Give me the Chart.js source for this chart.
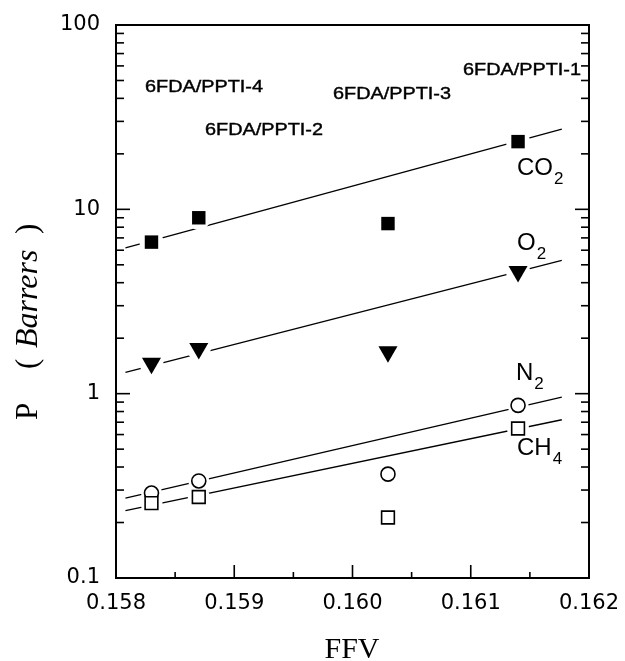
<!DOCTYPE html>
<html><head><meta charset="utf-8">
<script src="https://cdn.jsdelivr.net/npm/chart.js@4.4.0/dist/chart.umd.min.js"></script>
<style>html,body{margin:0;padding:0;background:#fff;}</style>
</head><body>
<canvas id="c" width="625" height="661"></canvas>
<script>
// ---- data ----
const ffv = [0.1583, 0.1587, 0.1603, 0.1614];
const co2 = [6.64, 9.0, 8.37, 23.3];
const o2  = [1.46, 1.76, 1.69, 4.6];
const n2  = [0.289, 0.336, 0.366, 0.864];
const ch4 = [0.255, 0.275, 0.213, 0.647];
const fitFFV = [0.15808, 0.16177];
const co2Fit = [6.18, 27.2];
const o2Fit  = [1.306, 5.28];
const n2Fit  = [0.271, 0.958];
const ch4Fit = [0.232, 0.722];
const xTicks = [0.158, 0.159, 0.160, 0.161, 0.162];
const yTicks = [0.1, 1, 10, 100];
const polymers = ['6FDA/PPTI-4', '6FDA/PPTI-2', '6FDA/PPTI-3', '6FDA/PPTI-1'];
const gases = [['CO', '2'], ['O', '2'], ['N', '2'], ['CH', '4']];

const pts = (xs, ys) => xs.map((v, i) => ({x: v, y: ys[i]}));

function fitSet(ys) {
  return {type: 'scatter', data: pts(fitFFV, ys), showLine: true, borderColor: '#000',
    borderWidth: 1.3, pointRadius: 0, order: 3};
}
function haloSet(ys, r) {
  return {type: 'scatter', data: pts(ffv, ys), pointStyle: 'circle', pointRadius: r,
    pointBackgroundColor: '#fff', pointBorderWidth: 0, borderColor: '#fff', order: 2};
}

const framePlugin = {
  id: 'frame',
  afterDraw(chart) {
    const {ctx, chartArea: a, scales: {x, y}} = chart;
    ctx.save();
    ctx.strokeStyle = '#000';
    ctx.lineWidth = 2;
    ctx.strokeRect(a.left, a.top, a.right - a.left, a.bottom - a.top);
    const seg = (x1, y1, x2, y2) => { ctx.beginPath(); ctx.moveTo(x1, y1); ctx.lineTo(x2, y2); ctx.stroke(); };
    ctx.lineWidth = 1.6;
    xTicks.forEach((v, i) => {
      const px = x.getPixelForValue(v);
      seg(px, a.bottom, px, a.bottom - 13);
      if (i < xTicks.length - 1) {
        const pm = x.getPixelForValue((v + xTicks[i + 1]) / 2);
        seg(pm, a.bottom, pm, a.bottom - 6);
      }
    });
    yTicks.forEach((v, i) => {
      const py = y.getPixelForValue(v);
      seg(a.left, py, a.left + 14, py);
      seg(a.right, py, a.right - 14, py);
      if (i < yTicks.length - 1) {
        for (let m = 2; m <= 9; m++) {
          const pm = y.getPixelForValue(v * m);
          seg(a.left, pm, a.left + 8, pm);
          seg(a.right, pm, a.right - 8, pm);
        }
      }
    });
    // polymer annotations (left x, centre y)
    const annPos = [[145, 88], [205, 131], [333, 95], [463, 71]];
    ctx.fillStyle = '#000';
    ctx.strokeStyle = '#000';
    ctx.lineWidth = 0.4;
    ctx.textBaseline = 'middle';
    ctx.textAlign = 'left';
    polymers.forEach((t, i) => {
      ctx.save();
      ctx.translate(annPos[i][0], annPos[i][1]);
      ctx.scale(1.24, 1);
      ctx.font = '16px "Liberation Sans", Arial, sans-serif';
      ctx.fillText(t, 0, 0);
      ctx.strokeText(t, 0, 0);
      ctx.restore();
    });
    // gas labels (left x, baseline y)
    const gasPos = [[517, 175], [517, 250], [516, 380], [517, 455]];
    ctx.textBaseline = 'alphabetic';
    gases.forEach((g, i) => {
      ctx.font = '24px "Liberation Sans", Arial, sans-serif';
      ctx.fillText(g[0], gasPos[i][0], gasPos[i][1]);
      const w = ctx.measureText(g[0]).width;
      ctx.font = '17px "Liberation Sans", Arial, sans-serif';
      ctx.fillText(g[1], gasPos[i][0] + w + 1, gasPos[i][1] + 9);
    });
    // x title
    ctx.textAlign = 'center';
    ctx.font = '30px "Liberation Serif", "Times New Roman", serif';
    ctx.fillText('FFV', 352, 658);
    // y title (rotated)
    ctx.save();
    ctx.translate(37, 420);
    ctx.rotate(-Math.PI / 2);
    ctx.textAlign = 'left';
    ctx.font = '31px "Liberation Serif", "Times New Roman", serif';
    ctx.fillText('P', 0, 0);
    ctx.fillText('(', 51, 0);
    ctx.font = 'italic 32px "Liberation Serif", "Times New Roman", serif';
    ctx.fillText('Barrers', 72, 0);
    ctx.font = '31px "Liberation Serif", "Times New Roman", serif';
    ctx.fillText(')', 186, 0);
    ctx.restore();
    ctx.restore();
  }
};

new Chart(document.getElementById('c'), {
  type: 'scatter',
  data: {
    datasets: [
      // markers (drawn on top)
      {label: 'CO2', data: pts(ffv, co2), pointStyle: 'rect', pointRadius: 9.5,
        pointBackgroundColor: '#000', pointBorderColor: '#000', pointBorderWidth: 0, order: 1},
      {label: 'O2', data: pts(ffv, o2), pointStyle: 'triangle', rotation: 180, pointRotation: 180, pointRadius: 11,
        pointBackgroundColor: '#000', pointBorderColor: '#000', pointBorderWidth: 0, order: 1},
      {label: 'CH4', data: pts(ffv, ch4), pointStyle: 'rect', pointRadius: 9,
        pointBackgroundColor: '#fff', pointBorderColor: '#000', pointBorderWidth: 1.6, order: 1},
      {label: 'N2', data: pts(ffv, n2), pointStyle: 'circle', pointRadius: 7,
        pointBackgroundColor: '#fff', pointBorderColor: '#000', pointBorderWidth: 1.6, order: 1},
      // white halos that interrupt the fit lines around markers
      haloSet(co2, 12), haloSet(o2, 12), haloSet(ch4, 11), haloSet(n2, 10.5),
      // fit lines
      fitSet(co2Fit), fitSet(o2Fit), fitSet(n2Fit), fitSet(ch4Fit)
    ]
  },
  options: {
    responsive: false,
    animation: false,
    devicePixelRatio: 1,
    layout: {autoPadding: false, padding: {top: 25, right: 36, left: 0, bottom: 0}},
    plugins: {legend: {display: false}, tooltip: {enabled: false}},
    scales: {
      x: {
        type: 'linear', min: 0.158, max: 0.162,
        grid: {display: false, drawTicks: false},
        border: {display: false},
        afterBuildTicks: s => { s.ticks = xTicks.map(v => ({value: v})); },
        afterFit: s => { s.height = 83; s.paddingLeft = 0; s.paddingRight = 0; },
        ticks: {padding: 13, color: '#000', font: {family: '"DejaVu Sans", sans-serif', size: 21},
          maxRotation: 0, autoSkip: false, callback: v => v.toFixed(3)}
      },
      y: {
        type: 'logarithmic', min: 0.1, max: 100,
        grid: {display: false, drawTicks: false},
        border: {display: false},
        afterBuildTicks: s => { s.ticks = yTicks.map(v => ({value: v})); },
        afterFit: s => { s.width = 116; s.paddingTop = 0; s.paddingBottom = 0; },
        ticks: {padding: 16, color: '#000', font: {family: '"DejaVu Sans", sans-serif', size: 21},
          autoSkip: false, callback: v => String(v)}
      }
    }
  },
  plugins: [framePlugin]
});
</script>
</body></html>
